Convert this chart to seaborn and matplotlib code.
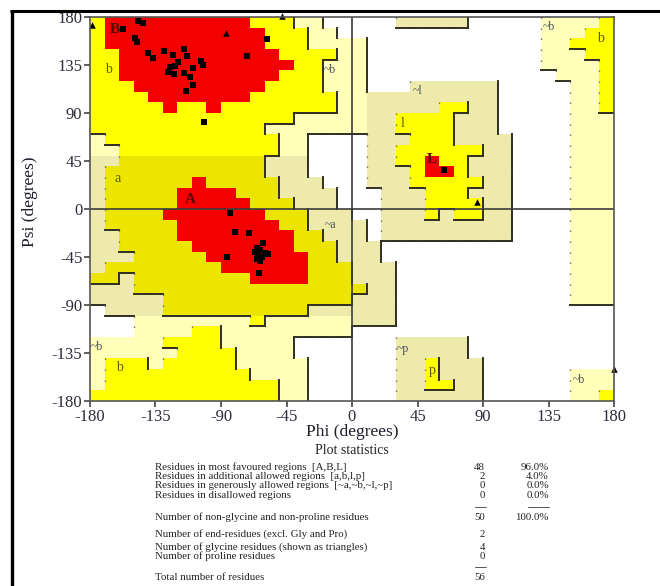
import numpy as np
import matplotlib
matplotlib.use("Agg")
import matplotlib.pyplot as plt
from matplotlib.colors import ListedColormap, BoundaryNorm
from matplotlib.collections import LineCollection
from matplotlib.lines import Line2D
import seaborn as sns

# Ramachandran region map on a 10-degree grid.
# Rows run psi 180 -> -180, columns run phi -180 -> 180.
# '.' disallowed, 'g'/'k' generously allowed, 'a'/'y' additionally allowed, 'R' most favoured
REGION_ROWS = [
    "aRRRRRRRRRRaaagg.....kkkkk.....gggga",
    "aRRRRRRRRRRRaaagg..............gggaa",
    "aRRRRRRRRRRRaaagggg............ggaaa",
    "aaRRRRRRRRRRRaaaagg............gggaa",
    "aaRRRRRRRRRRRRaaggg............gggga",
    "aaRRRRRRRRRRRaaaggg.............ggga",
    "aaaRRRRRRRRRaaaaggg...kkkkkk.....gga",
    "aaaaRRRRRRRaaaaaaggkkkkkkkkk.....gga",
    "aaaaaRaaRaaaaaaaaggkkkkkaakk.....gga",
    "aaaaaaaaaaaaaagggggkkaaaakkk.....ggg",
    "aaaaaaaaaaaagggggggkkaaaakkk.....ggg",
    "gaaaaaaaaaaaagg....kkkaaakkkk....ggg",
    "ggaaaaaaaaaaagg....kkaaaaaakk....ggg",
    "kkyyyyyyyyyykkk....kkaaRaakkk....ggg",
    "kyyyyyyyyyyykkk....kkkaRRakkk....ggg",
    "kyyyyyyRyyyyykkk...kkkaaaaakk....ggg",
    "kyyyyyRRRRyyykkkk...kkkaaakkk....ggg",
    "kyyyyyRRRRRyyykkk...kkkaaaakk....ggg",
    "kyyyyRRRRRRRyyykkk..kkkakaakk....ggg",
    "kyyyyyRRRRRRRyykkkk.kkkkkkkkk....ggg",
    "kkyyyyRRRRRRRRyykkk.kkkkkkkkk....ggg",
    "kkyyyyyRRRRRRRyyykkk.............ggg",
    "kkkyyyyyRRRRRRRyykkk.............ggg",
    "kyyyyyyyyRRRRRRyyykkk............ggg",
    "yykyyyyyyyyRRRRyyykkk............ggg",
    "kkkyyyyyyyyyyyyyyyykk............ggg",
    "kkkkkyyyyyyyyyyyyykkk............ggg",
    ".kkkkyyyyyyyyyykkkkkk...............",
    "...ggggggggaggggggkkk...............",
    "...ggggaaggggggggg..................",
    "gggggaaaaggggg.......kkkkk..........",
    "ggggggaaaagggg.......kkkkk..........",
    "gaaagaaaaaggggg......kkakkk.........",
    "gaaaaaaaaaagggg......kkakkk......ggg",
    "gaaaaaaaaaaaagg......kkaakk......ggg",
    "aaaaaaaaaaaaagg......kkkkkk......gga",
]
REGION_CODES = [".", "g", "k", "a", "y", "R"]
REGION_COLORS = ["#ffffff", "#ffffba", "#eeeaab", "#ffff00", "#ece500", "#f40000"]
REGION_LEVEL = {".": 0, "g": 1, "k": 1, "a": 2, "y": 2, "R": 3}

# Backbone angles of non-glycine residues (squares)
res_phi = [-146.8, -143.8, -157.1, -149.1, -147.9, -139.9, -136.5, -129.2, -123.2,
           -115.4, -113.6, -119.3, -121.6, -125.0, -126.2, -122.1, -115.4, -111.3,
           -109.5, -103.7, -102.2, -109.0, -114.0, -72.4, -58.2, -101.5,
           63.2,
           -83.8, -80.4, -70.6, -85.7, -60.9, -65.5, -63.2, -59.8, -66.6, -57.5,
           -64.3, -62.0, -65.5, -63.2, -63.7]
res_psi = [176.5, 174.1, 168.5, 160.0, 156.9, 146.0, 141.3, 148.4, 144.4,
           149.7, 143.4, 138.1, 134.1, 133.4, 128.7, 126.6, 127.2, 123.5,
           131.9, 138.7, 135.0, 116.3, 110.9, 143.4, 159.1, 81.8,
           36.6,
           -4.0, -21.3, -22.8, -45.3, -32.2, -36.9, -38.4, -40.9, -40.0, -42.2,
           -43.1, -45.3, -47.2, -48.7, -59.7]

# Glycine residues (triangles)
gly_phi = [-178.8, -86.8, -48.0, 85.7, 180.0]
gly_psi = [172.5, 164.7, 180.5, 6.9, -150.0]

# Region labels: text, phi, psi
region_text = ["B", "b", "a", "A", "~b", "~a", "~l", "l", "L", "~b", "b", "~b", "b", "~p", "p", "~b"]
region_phi = [-163, -167, -161, -111, -15, -15, 45, 35, 55, 135, 171, -175, -160, 35, 55, 156]
region_psi = [168, 131, 29, 9, 130, -15, 111, 80, 46, 171, 160, -129, -149, -131, -151, -160]

tick_values = [-180, -135, -90, -45, 0, 45, 90, 135, 180]
tick_labels = ["-180", "-135", "-90", "-45", "0", "45", "90", "135", "180"]

stats_title = "Plot statistics"
stats_labels = [
    "Residues in most favoured regions  [A,B,L]",
    "Residues in additional allowed regions  [a,b,l,p]",
    "Residues in generously allowed regions  [~a,~b,~l,~p]",
    "Residues in disallowed regions",
    "Number of non-glycine and non-proline residues",
    "Number of end-residues (excl. Gly and Pro)",
    "Number of glycine residues (shown as triangles)",
    "Number of proline residues",
    "Total number of residues",
]
stats_counts = ["48", "2", "0", "0", "50", "2", "4", "0", "56"]
stats_percent = ["96.0%", "4.0%", "0.0%", "0.0%", "100.0%", "", "", "", ""]

# ---------------------------------------------------------------- styling
sns.set_theme(style="ticks")
plt.rcParams["font.family"] = ["Liberation Serif", "DejaVu Serif"]

W, H = 660, 586
fig = plt.figure(figsize=(W / 100, H / 100), dpi=100)
fig.patch.set_facecolor("white")
ax = fig.add_axes([90 / W, 1 - 401 / H, 524 / W, 384 / H])


def fx(px):
    return px / W


def fy(py):
    return 1 - py / H


# ---------------------------------------------------------------- regions
assert all(len(r) == 36 for r in REGION_ROWS) and len(REGION_ROWS) == 36
code_grid = np.array([list(r) for r in REGION_ROWS])
index_grid = np.vectorize(REGION_CODES.index)(code_grid)
level_grid = np.vectorize(REGION_LEVEL.get)(code_grid)

cmap = ListedColormap(REGION_COLORS)
norm = BoundaryNorm(np.arange(-0.5, len(REGION_COLORS) + 0.5), cmap.N)
ax.imshow(index_grid, cmap=cmap, norm=norm, extent=(-180, 180, -180, 180),
          origin="upper", interpolation="nearest", aspect="auto", zorder=0)

# Shaded borders on the right / lower edge of each region, dotted on the left edge
n = code_grid.shape[0]
shadow, dotted = [], []
for r in range(n):
    top = 180 - 10 * r
    bot = top - 10
    for c in range(n - 1):
        x = -170 + 10 * c
        a, b = level_grid[r, c], level_grid[r, c + 1]
        if 1 <= a <= 2 and b < a:
            shadow.append([(x, bot), (x, top)])
        elif 1 <= b <= 2 and a < b:
            dotted.append([(x, top), (x, bot)])
for r in range(n - 1):
    y = 170 - 10 * r
    for c in range(n):
        left = -180 + 10 * c
        a, b = level_grid[r, c], level_grid[r + 1, c]
        if 1 <= a <= 2 and b < a:
            shadow.append([(left, y), (left + 10, y)])

ax.add_collection(LineCollection(shadow, colors="#2f2f22", linewidths=1.4,
                                 capstyle="projecting", zorder=2))
ax.add_collection(LineCollection(dotted, colors="#6a6a60", linewidths=1.0,
                                 linestyles=[(0, (1, 7))], zorder=2))

# Zero lines
ax.axhline(0, color="#3c3c3c", lw=1.2, zorder=3)
ax.axvline(0, color="#3c3c3c", lw=1.2, zorder=3)

# ---------------------------------------------------------------- residues
sns.scatterplot(x=res_phi, y=res_psi, marker="s", color="black", s=22,
                linewidth=0, ax=ax, zorder=5)
sns.scatterplot(x=gly_phi, y=gly_psi, marker="^", color="black", s=22,
                linewidth=0, ax=ax, zorder=5)
for coll in ax.collections:
    if coll.get_zorder() == 5:
        coll.set_clip_on(False)

for t, p, q in zip(region_text, region_phi, region_psi):
    if t.isupper():
        col, fs = "#5a0a00", 11
    elif t.startswith("~"):
        col, fs = "#4a5060", 8.5
    else:
        col, fs = "#5c5a00", 10
    ax.text(p, q, t, color=col, fontsize=fs, ha="center", va="center",
            fontweight="bold" if t.isupper() else "normal", zorder=4)

# ---------------------------------------------------------------- axes
ax.set_xlim(-180, 180)
ax.set_ylim(-180, 180)
ax.set_xticks(tick_values)
ax.set_xticklabels(tick_labels)
ax.set_yticks(tick_values)
ax.set_yticklabels(tick_labels)
ax.tick_params(direction="out", length=4.5, width=1.2, color="#444444",
               labelsize=12, labelcolor="#2c2c3c", pad=1)
for side in ["left", "bottom", "right", "top"]:
    ax.spines[side].set_color("#555555")
    ax.spines[side].set_linewidth(1.2)
    ax.spines[side].set_visible(True)
    ax.spines[side].set_zorder(6)

ax.set_xlabel("Phi (degrees)", fontsize=12.5, color="#1e1e2a")
ax.set_ylabel("Psi (degrees)", fontsize=12.5, color="#1e1e2a")
ax.xaxis.set_label_coords(0.5, (401 - 424) / 384)
ax.yaxis.set_label_coords((38 - 90) / 524, 0.52)

# ---------------------------------------------------------------- statistics block
fig.text(fx(352), fy(451), stats_title, ha="center", va="center",
         fontsize=10, color="#222222")
row_y = [467, 476.5, 486, 495.5, 517, 534.5, 547.5, 556.5, 577]
for lab, cnt, pct, yy in zip(stats_labels, stats_counts, stats_percent, row_y):
    fig.text(fx(155), fy(yy), lab, ha="left", va="center", fontsize=7.8, color="#222222")
    fig.text(fx(485), fy(yy), cnt, ha="right", va="center", fontsize=7.8, color="#222222")
    if pct:
        fig.text(fx(549), fy(yy), pct, ha="right", va="center", fontsize=7.8, color="#222222")

for x0, x1, yy in [(475, 486, 507), (528, 549, 507), (475, 486, 567)]:
    fig.add_artist(Line2D([fx(x0), fx(x1)], [fy(yy), fy(yy)], transform=fig.transFigure,
                          color="#555555", lw=0.7))

# Page frame
fig.add_artist(Line2D([fx(11.5), fx(11.5)], [0, fy(10)], transform=fig.transFigure,
                      color="black", lw=2.4, solid_capstyle="butt"))
fig.add_artist(Line2D([fx(10.5), 1], [fy(10.5), fy(10.5)], transform=fig.transFigure,
                      color="black", lw=2.2, solid_capstyle="butt"))

fig.savefig("out.png", dpi=100, facecolor="white")
